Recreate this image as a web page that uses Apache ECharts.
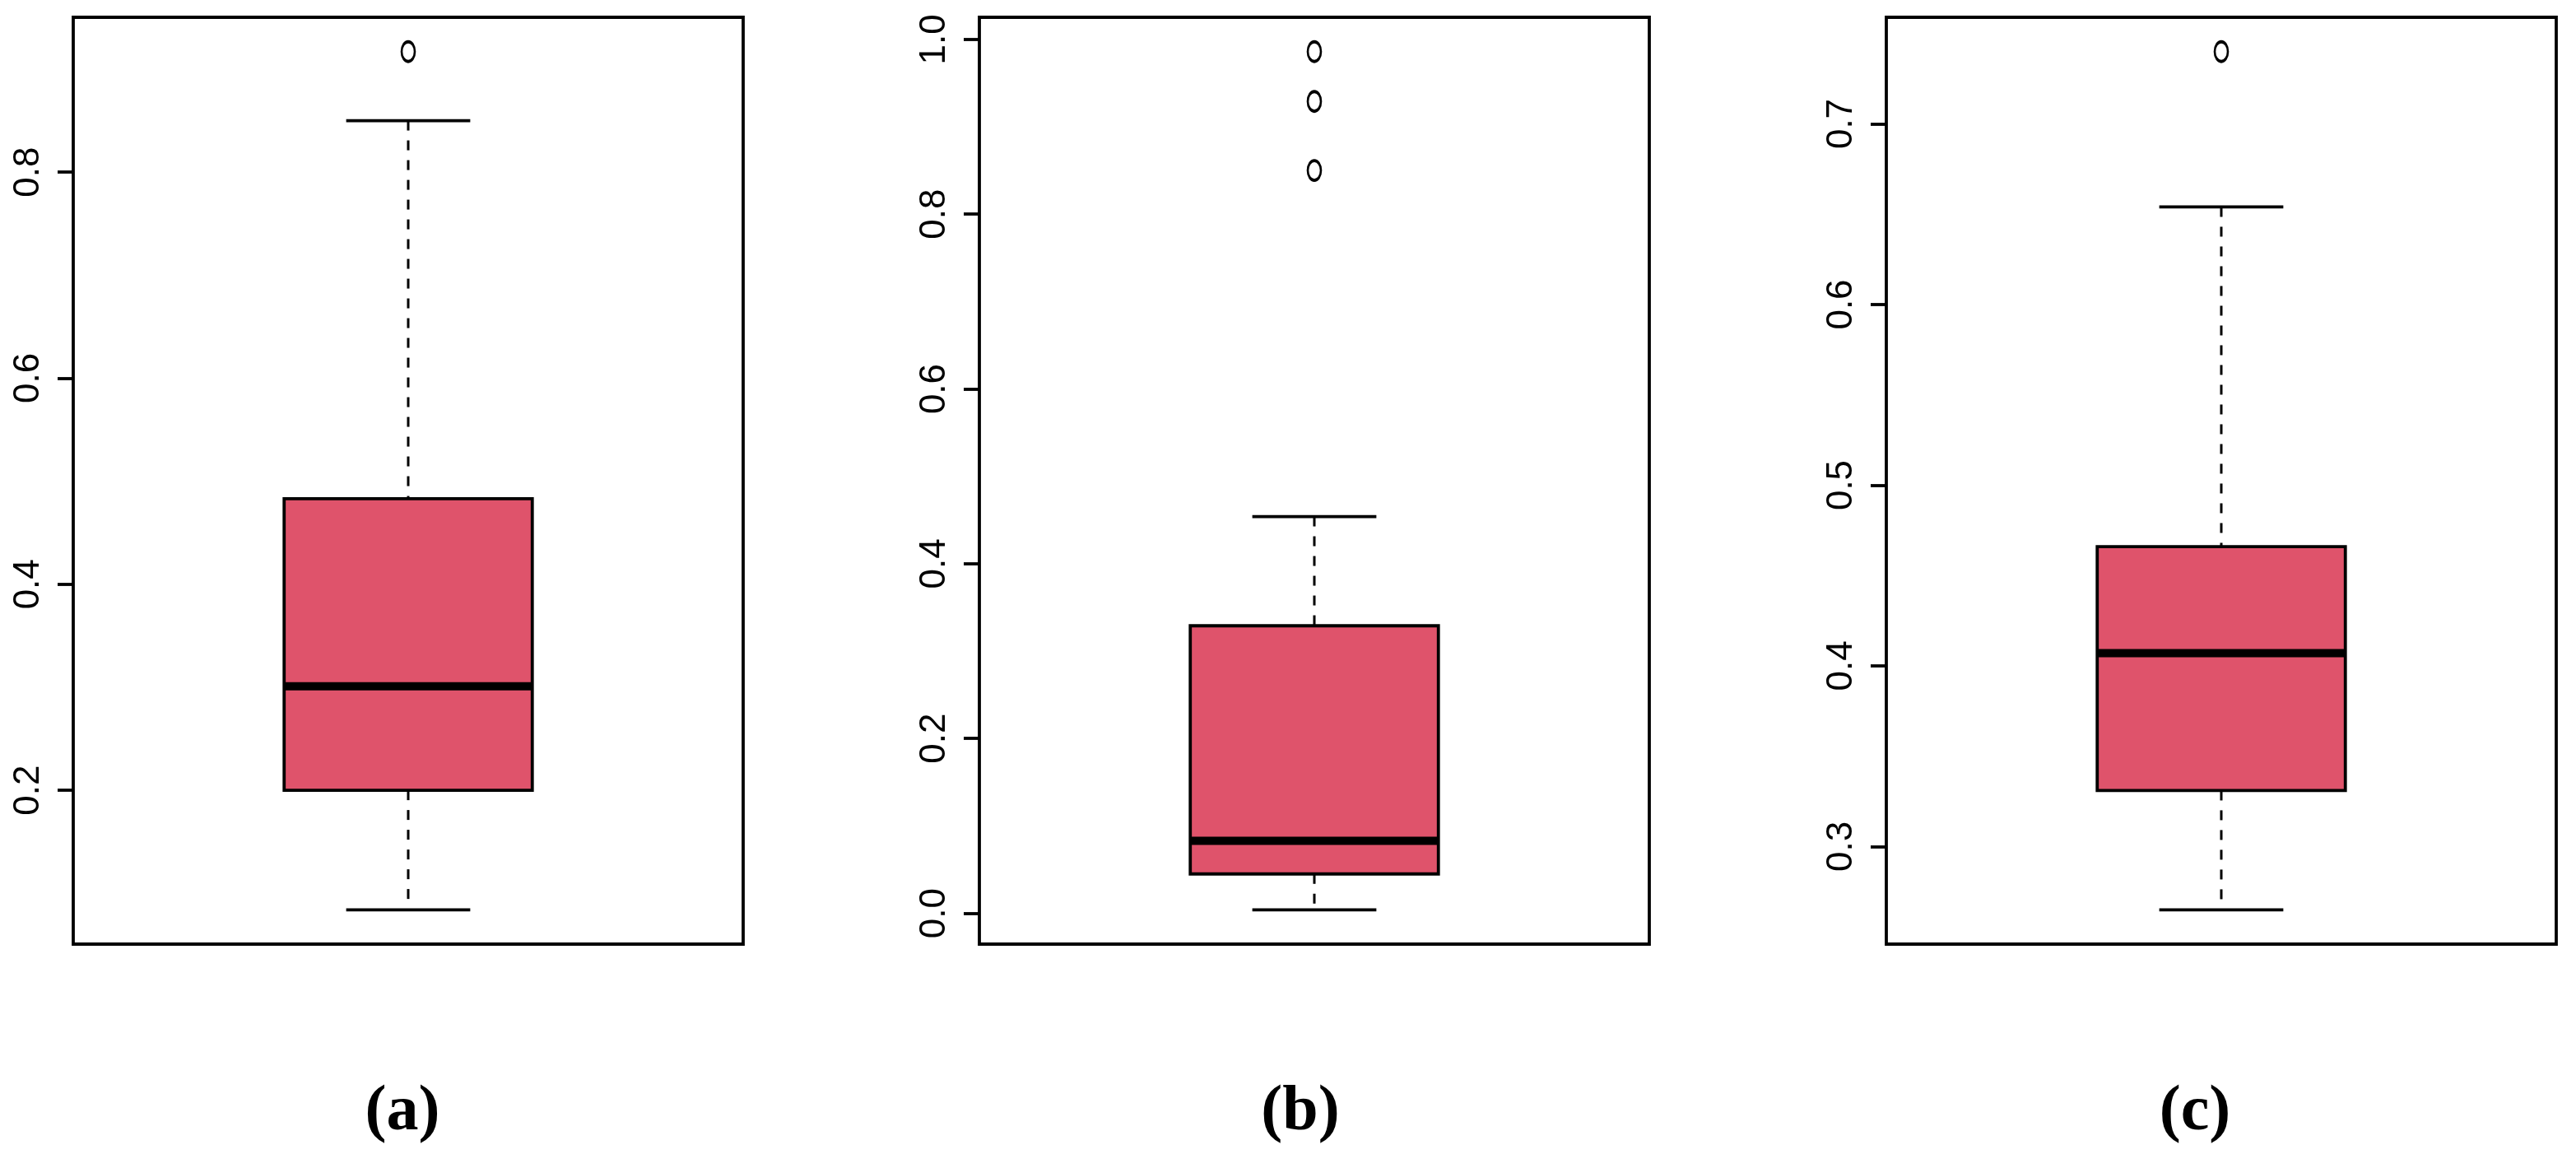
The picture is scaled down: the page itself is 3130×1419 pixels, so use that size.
<!DOCTYPE html>
<html>
<head>
<meta charset="utf-8">
<title>boxplots</title>
<script src="https://cdn.jsdelivr.net/npm/echarts@6/dist/echarts.min.js"></script>
<style>
  html, body { margin: 0; padding: 0; background: #fff; }
  #chart { width: 3130px; height: 1419px; }
</style>
</head>
<body>
<div id="chart"></div>
<script>
// [lower whisker, Q1, median, Q3, upper whisker]
var boxA = [0.084, 0.200, 0.301, 0.483, 0.850]
var boxB = [0.004, 0.045, 0.083, 0.329, 0.454]
var boxC = [0.265, 0.331, 0.407, 0.466, 0.654]
var outA = [0.917]
var outB = [0.850, 0.929, 0.986]
var outC = [0.740]
var ticksA = [0.2, 0.4, 0.6, 0.8]
var ticksB = [0.0, 0.2, 0.4, 0.6, 0.8, 1.0]
var ticksC = [0.3, 0.4, 0.5, 0.6, 0.7]
var panelLabels = ['(a)', '(b)', '(c)']

var fill = '#df536b'
var lineW = 3.8

var chart = echarts.init(document.getElementById('chart'))

// R style range: data range padded 4% each side
function range(box, out) {
  var all = box.concat(out)
  var lo = Math.min.apply(null, all)
  var hi = Math.max.apply(null, all)
  var pad = (hi - lo) * 0.04
  return [lo - pad, hi + pad]
}

function renderBox(params, api) {
  var x = api.value(0)
  var lower = api.value(1), q1 = api.value(2), med = api.value(3), q3 = api.value(4), upper = api.value(5)
  var tl = api.coord([x - 0.2, q3])
  var br = api.coord([x + 0.2, q1])
  var mL = api.coord([x - 0.2, med])
  var mR = api.coord([x + 0.2, med])
  var pUp = api.coord([x, upper])
  var pQ3 = api.coord([x, q3])
  var pQ1 = api.coord([x, q1])
  var pLo = api.coord([x, lower])
  var cUL = api.coord([x - 0.1, upper])
  var cUR = api.coord([x + 0.1, upper])
  var cLL = api.coord([x - 0.1, lower])
  var cLR = api.coord([x + 0.1, lower])
  var dash = {stroke: '#000', lineWidth: 3, lineDash: [12, 12]}
  var solid = {stroke: '#000', lineWidth: lineW}
  return {
    type: 'group',
    children: [
      {type: 'line', shape: {x1: pUp[0], y1: pUp[1], x2: pQ3[0], y2: pQ3[1]}, style: dash},
      {type: 'line', shape: {x1: pQ1[0], y1: pQ1[1], x2: pLo[0], y2: pLo[1]}, style: dash},
      {type: 'line', shape: {x1: cUL[0], y1: cUL[1], x2: cUR[0], y2: cUR[1]}, style: solid},
      {type: 'line', shape: {x1: cLL[0], y1: cLL[1], x2: cLR[0], y2: cLR[1]}, style: solid},
      {type: 'rect', shape: {x: tl[0], y: tl[1], width: br[0] - tl[0], height: br[1] - tl[1]},
        style: {fill: fill, stroke: '#000', lineWidth: lineW}},
      {type: 'line', shape: {x1: mL[0], y1: mL[1], x2: mR[0], y2: mR[1]}, style: {stroke: '#000', lineWidth: 10}}
    ]
  }
}

var panels = [
  {box: boxA, out: outA, ticks: ticksA, left: 89},
  {box: boxB, out: outB, ticks: ticksB, left: 1190},
  {box: boxC, out: outC, ticks: ticksC, left: 2292}
]
var labelX = [489, 1580, 2667]

var grid = [], xAxis = [], yAxis = [], series = [], graphic = []
panels.forEach(function (p, i) {
  var r = range(p.box, p.out)
  grid.push({
    left: p.left, top: 21, width: 814, height: 1126,
    show: true, borderColor: '#000', borderWidth: lineW, backgroundColor: 'transparent'
  })
  xAxis.push({
    type: 'value', gridIndex: i, min: 0.46, max: 1.54, show: false
  })
  yAxis.push({
    type: 'value', gridIndex: i, min: r[0], max: r[1],
    axisLine: {show: false},
    splitLine: {show: false},
    axisTick: {show: true, length: 19, customValues: p.ticks, lineStyle: {color: '#000', width: lineW}},
    axisLabel: {
      customValues: p.ticks, rotate: 90, margin: 32,
      fontFamily: 'Liberation Sans', fontSize: 44, color: '#000',
      formatter: function (v) { return v.toFixed(1) }
    }
  })
  series.push({
    type: 'custom', xAxisIndex: i, yAxisIndex: i,
    renderItem: renderBox,
    data: [[1].concat(p.box)],
    silent: true
  })
  series.push({
    type: 'scatter', xAxisIndex: i, yAxisIndex: i,
    data: p.out.map(function (v) { return [1, v] }),
    symbol: 'path://M0,12 A8,12 0 1,1 16,12 A8,12 0 1,1 0,12 Z',
    symbolSize: [16, 24],
    itemStyle: {color: 'rgba(0,0,0,0)', borderColor: '#000', borderWidth: 3.2, opacity: 1},
    silent: true
  })
  graphic.push({
    type: 'text', x: labelX[i], y: 1352,
    style: {
      text: panelLabels[i], fill: '#000',
      font: 'bold 78px "Liberation Serif"',
      align: 'center', verticalAlign: 'middle'
    }
  })
})

chart.setOption({
  animation: false,
  backgroundColor: '#fff',
  grid: grid,
  xAxis: xAxis,
  yAxis: yAxis,
  series: series,
  graphic: graphic
})

window.addEventListener('resize', () => chart.resize())
</script>
</body>
</html>
